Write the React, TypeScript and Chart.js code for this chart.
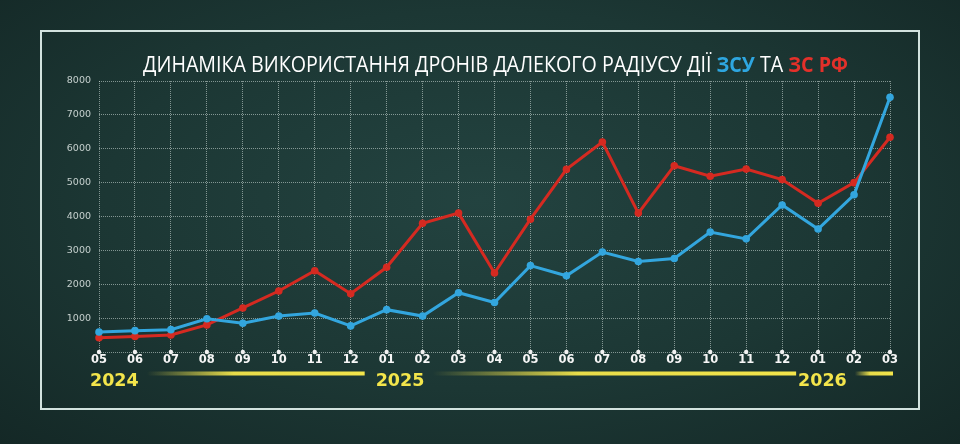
import React, { useEffect, useRef } from 'react';
import { Chart, registerables } from 'chart.js';

Chart.register(...registerables);

const months = ['05', '06', '07', '08', '09', '10', '11', '12', '01', '02', '03', '04', '05', '06', '07', '08', '09', '10', '11', '12', '01', '02', '03'];
const zsuValues = [590, 630, 660, 980, 850, 1060, 1150, 770, 1250, 1060, 1750, 1460, 2550, 2250, 2950, 2670, 2760, 3540, 3340, 4340, 3630, 4640, 7520];
const zsrfValues = [420, 460, 500, 800, 1300, 1800, 2400, 1720, 2500, 3800, 4100, 2330, 3920, 5390, 6200, 4100, 5500, 5190, 5400, 5090, 4390, 5000, 6340];
const yearLabels = ['2024', '2025', '2026'];
const yearStartIdx = [0, 8, 20];
const yearEndIdx = [7, 19, 22];
const titleParts = [
  { text: 'ДИНАМІКА ВИКОРИСТАННЯ ДРОНІВ ДАЛЕКОГО РАДІУСУ ДІЇ ', color: '#ffffff', bold: false },
  { text: 'ЗСУ', color: '#2ea6e0', bold: true },
  { text: ' ТА ', color: '#ffffff', bold: false },
  { text: 'ЗС РФ', color: '#e3302a', bold: true },
];
const Y_MIN = 0;
const Y_MAX = 8000;
const Y_STEP = 1000;

const BLUE = '#33a6de';
const RED = '#d52a21';
const YELLOW = '#f3e54b';

const titlePlugin = {
  id: 'titlePlugin',
  afterDraw(chart: any) {
    const ctx = chart.ctx;
    ctx.save();
    const fN = '500 22px "Open Sans"';
    const fB = '700 22px "Open Sans"';
    let total = 0;
    const widths = titleParts.map((p) => {
      ctx.font = p.bold ? fB : fN;
      const w = ctx.measureText(p.text).width;
      total += w;
      return w;
    });
    const targetW = 705;
    const sx = targetW / total;
    ctx.translate(143, 72);
    ctx.scale(sx, 1);
    ctx.textBaseline = 'alphabetic';
    ctx.textAlign = 'left';
    let x = 0;
    titleParts.forEach((p, i) => {
      ctx.font = p.bold ? fB : fN;
      ctx.fillStyle = p.color;
      ctx.fillText(p.text, x, 0);
      x += widths[i];
    });
    ctx.restore();
  },
};

const YEAR_SHIFT = [-9, -11, -20];

const yearPlugin = {
  id: 'yearPlugin',
  afterDraw(chart: any) {
    const ctx = chart.ctx;
    const xs = chart.scales.x;
    const area = chart.chartArea;
    ctx.save();
    ctx.font = 'bold 17.5px "DejaVu Sans"';
    ctx.textBaseline = 'alphabetic';
    ctx.textAlign = 'left';
    yearLabels.forEach((lab, i) => {
      const left = xs.getPixelForValue(yearStartIdx[i]) + YEAR_SHIFT[i];
      ctx.fillStyle = YELLOW;
      ctx.fillText(lab, left, 385.5);
      const w = ctx.measureText(lab).width;
      const start = left + w + 8;
      const end = Math.min(xs.getPixelForValue(yearEndIdx[i]) + 14, area.right + 3);
      const g = ctx.createLinearGradient(start, 0, end, 0);
      g.addColorStop(0, 'rgba(243,229,75,0)');
      g.addColorStop(0.4, 'rgba(243,229,75,0.95)');
      g.addColorStop(1, 'rgba(243,229,75,1)');
      ctx.fillStyle = g;
      ctx.fillRect(start, 371.5, end - start, 4);
    });
    ctx.restore();
  },
};

const tickDotPlugin = {
  id: 'tickDotPlugin',
  beforeDatasetsDraw(chart: any) {
    const ctx = chart.ctx;
    const xs = chart.scales.x;
    const bottom = chart.chartArea.bottom;
    ctx.save();
    ctx.fillStyle = '#f2f2f2';
    months.forEach((_, i) => {
      ctx.beginPath();
      ctx.arc(xs.getPixelForValue(i), bottom, 2.2, 0, Math.PI * 2);
      ctx.fill();
    });
    ctx.restore();
  },
};

export default function App() {
  const ref = useRef<HTMLCanvasElement | null>(null);

  useEffect(() => {
    if (!ref.current) return;
    const gridColor = 'rgba(215,228,224,0.55)';
    const chart = new Chart(ref.current, {
      type: 'line',
      data: {
        labels: months,
        datasets: [
          {
            label: 'ЗСУ',
            data: zsuValues,
            borderColor: BLUE,
            backgroundColor: BLUE,
            pointBackgroundColor: BLUE,
            borderWidth: 3,
            pointRadius: 3.8,
            pointBorderWidth: 0,
            tension: 0,
            clip: 10,
            order: 0,
          },
          {
            label: 'ЗС РФ',
            data: zsrfValues,
            borderColor: RED,
            backgroundColor: RED,
            pointBackgroundColor: RED,
            borderWidth: 3,
            pointRadius: 3.8,
            pointBorderWidth: 0,
            tension: 0,
            clip: 10,
            order: 1,
          },
        ],
      },
      options: {
        responsive: false,
        animation: false,
        devicePixelRatio: 1,
        layout: { padding: { top: 81, right: 70, left: 0, bottom: 0 } },
        plugins: {
          legend: { display: false },
          title: { display: false },
          tooltip: { enabled: false },
        },
        scales: {
          x: {
            offset: false,
            grid: { color: gridColor, lineWidth: 1, drawTicks: false },
            border: { display: false, dash: [1, 1] },
            ticks: {
              autoSkip: false,
              maxRotation: 0,
              padding: 1,
              color: '#f6f6f6',
              font: { family: '"DejaVu Sans"', size: 11.5, weight: 'bold' },
            },
            afterFit: (s: any) => {
              s.height = 92;
            },
          },
          y: {
            min: Y_MIN,
            max: Y_MAX,
            grid: { color: gridColor, lineWidth: 1, drawTicks: false },
            border: { display: false, dash: [1, 1] },
            ticks: {
              stepSize: Y_STEP,
              padding: 8,
              color: 'rgba(225,233,230,0.85)',
              font: { family: '"DejaVu Sans"', size: 9.5 },
              callback: (v: any) => (v === 0 ? '' : String(v)),
            },
            afterFit: (s: any) => {
              s.width = 99;
            },
          },
        },
      },
      plugins: [tickDotPlugin, titlePlugin, yearPlugin],
    } as any);
    return () => chart.destroy();
  }, []);

  return (
    <div
      style={{
        position: 'fixed',
        left: 0,
        top: 0,
        width: 960,
        height: 444,
        overflow: 'hidden',
        background: 'radial-gradient(ellipse at 50% 45%, #234340 0%, #1c3734 55%, #142826 100%)',
      }}
    >
      <div
        style={{
          position: 'absolute',
          left: 40,
          top: 30,
          width: 880,
          height: 380,
          boxSizing: 'border-box',
          border: '2px solid #d2e2de',
        }}
      />
      <canvas
        ref={ref}
        width={960}
        height={444}
        style={{ position: 'absolute', left: 0, top: 0, width: 960, height: 444, display: 'block' }}
      />
    </div>
  );
}
